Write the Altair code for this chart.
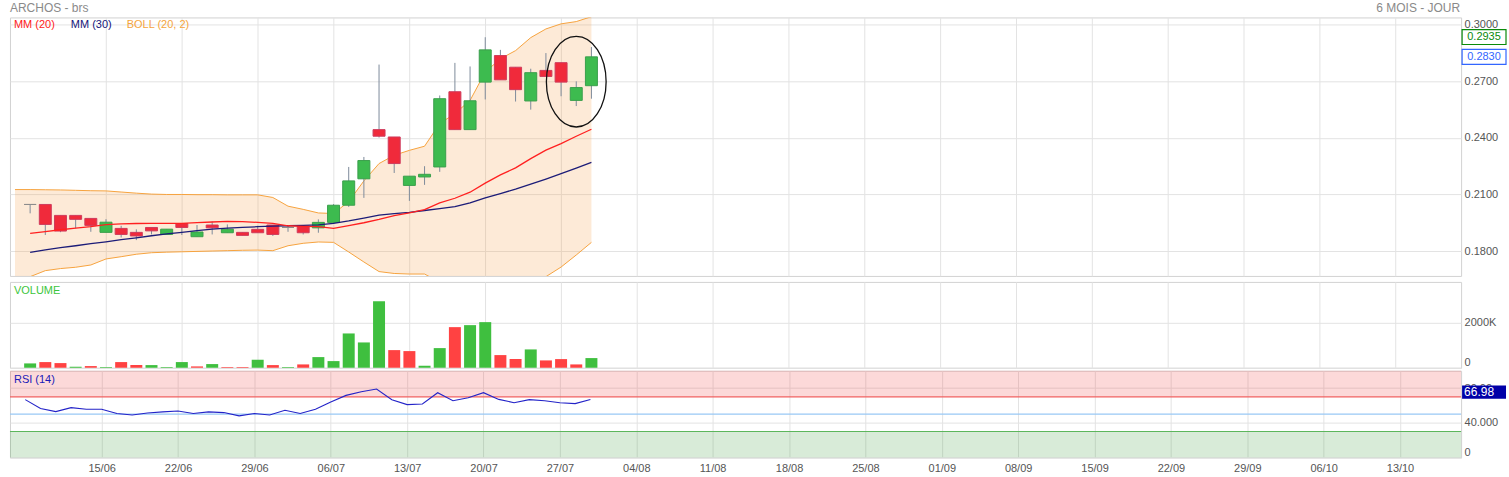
import altair as alt
import pandas as pd

# ---------------- data ----------------
idx = list(range(38))
opens = [0.2047, 0.2047, 0.1989, 0.1989, 0.1973, 0.1899, 0.1920, 0.1899, 0.1925, 0.1888,
         0.1946, 0.1876, 0.1938, 0.1897, 0.1899, 0.1915, 0.1938, 0.1925, 0.1932, 0.1923,
         0.1952, 0.2043, 0.2183, 0.2444, 0.2405, 0.2148, 0.2193, 0.2246, 0.2645, 0.2444,
         0.2696, 0.2837, 0.2775, 0.2596, 0.2758, 0.2799, 0.2599, 0.2677]
highs = [0.2047, 0.2047, 0.1989, 0.1989, 0.1973, 0.1969, 0.1934, 0.1915, 0.1925, 0.1916,
         0.1946, 0.1938, 0.1957, 0.1941, 0.1899, 0.1934, 0.1938, 0.1934, 0.1932, 0.1968,
         0.2049, 0.2246, 0.2299, 0.2789, 0.2405, 0.2197, 0.2250, 0.2625, 0.2798, 0.2779,
         0.2934, 0.2867, 0.2775, 0.2767, 0.2850, 0.2799, 0.2700, 0.2882]
lows = [0.2000, 0.1885, 0.1900, 0.1920, 0.1902, 0.1899, 0.1872, 0.1858, 0.1888, 0.1888,
        0.1885, 0.1876, 0.1888, 0.1897, 0.1883, 0.1897, 0.1880, 0.1902, 0.1888, 0.1897,
        0.1952, 0.2034, 0.2082, 0.2402, 0.2214, 0.2066, 0.2151, 0.2220, 0.2444, 0.2444,
        0.2604, 0.2708, 0.2593, 0.2550, 0.2726, 0.2621, 0.2569, 0.2608]
closes = [0.2047, 0.1941, 0.1906, 0.1968, 0.1936, 0.1953, 0.1888, 0.1880, 0.1907, 0.1916,
          0.1925, 0.1901, 0.1923, 0.1916, 0.1883, 0.1897, 0.1888, 0.1925, 0.1897, 0.1952,
          0.2043, 0.2172, 0.2280, 0.2409, 0.2264, 0.2197, 0.2207, 0.2608, 0.2444, 0.2597,
          0.2867, 0.2708, 0.2656, 0.2746, 0.2726, 0.2696, 0.2667, 0.2830]

mm20 = [0.1894, 0.1903, 0.1913, 0.1922, 0.1930, 0.1940, 0.1944, 0.1946, 0.1947, 0.1947,
        0.1947, 0.1951, 0.1954, 0.1957, 0.1956, 0.1952, 0.1947, 0.1934, 0.1931, 0.1929,
        0.1920, 0.1935, 0.1950, 0.1968, 0.1988, 0.2003, 0.2020, 0.2055, 0.2080, 0.2112,
        0.2160, 0.2204, 0.2241, 0.2290, 0.2335, 0.2370, 0.2409, 0.2446]
mm30 = [0.1793, 0.1806, 0.1818, 0.1828, 0.1839, 0.1849, 0.1860, 0.1870, 0.1881, 0.1891,
        0.1899, 0.1908, 0.1916, 0.1921, 0.1925, 0.1929, 0.1932, 0.1934, 0.1936, 0.1939,
        0.1947, 0.1960, 0.1975, 0.1990, 0.1998, 0.2005, 0.2015, 0.2025, 0.2035, 0.2055,
        0.2082, 0.2105, 0.2128, 0.2155, 0.2182, 0.2210, 0.2240, 0.2270]

band_idx = list(range(-1, 38))
boll_up = [0.2126, 0.2126, 0.2125, 0.2124, 0.2122, 0.2120, 0.2119, 0.2113, 0.2107, 0.2102,
           0.2100, 0.2100, 0.2099, 0.2099, 0.2098, 0.2098, 0.2098, 0.2084, 0.2038, 0.2021,
           0.2002, 0.1999, 0.2062, 0.2172, 0.2264, 0.2308, 0.2334, 0.2356, 0.2476, 0.2529,
           0.2599, 0.2749, 0.2820, 0.2863, 0.2932, 0.2978, 0.3005, 0.3017, 0.3043]
boll_low = [0.1664, 0.1664, 0.1696, 0.1707, 0.1714, 0.1726, 0.1758, 0.1770, 0.1783, 0.1791,
            0.1794, 0.1796, 0.1798, 0.1800, 0.1802, 0.1804, 0.1805, 0.1802, 0.1828, 0.1841,
            0.1848, 0.1846, 0.1795, 0.1742, 0.1691, 0.1681, 0.1678, 0.1678, 0.1635, 0.1600,
            0.1570, 0.1550, 0.1555, 0.1580, 0.1620, 0.1664, 0.1715, 0.1779, 0.1846]

volumes_k = [193, 252, 207, 44, 74, 30, 252, 118, 118, 30, 252, 59, 163, 30, 30, 356, 118, 30,
             148, 474, 296, 1526, 1126, 2963, 785, 741, 89, 874, 1807, 1896, 2030, 563, 385,
             815, 326, 385, 148, 430]
volume_up = [1, 0, 0, 1, 0, 1, 0, 0, 1, 1, 1, 0, 1, 0, 0, 1, 0, 1, 0, 1, 1, 1, 1, 1, 0, 0,
             1, 1, 0, 1, 1, 0, 0, 1, 0, 0, 0, 1]

rsi = [66.7, 56.4, 52.9, 57.5, 55.6, 55.6, 50.7, 49.1, 51.4, 52.6, 53.7, 50.7, 52.6, 51.8,
       48.0, 50.7, 49.1, 54.5, 50.7, 55.6, 64.0, 71.6, 75.8, 78.9, 66.7, 61.0, 61.7, 74.7,
       65.5, 68.95, 74.7, 67.0, 63.2, 66.7, 65.5, 63.2, 62.1, 66.98]

date_labels = ["15/06", "22/06", "29/06", "06/07", "13/07", "20/07", "27/07", "04/08", "11/08",
               "18/08", "25/08", "01/09", "08/09", "15/09", "22/09", "29/09", "06/10", "13/10"]
date_ticks = [5 * (k + 1) for k in range(len(date_labels))]

price_ticks = [0.18, 0.21, 0.24, 0.27, 0.30]
price_tags = [0.2935, 0.2830]
price_tag_colors = ["#0a8a0a", "#3366ff"]
highlight = {"i": 36.0, "v": 0.2698}

# ---------------- frames ----------------
GREEN, RED, GREY = "#3dbb4f", "#f02a3b", "#8c8c8c"
cd = pd.DataFrame({"i": idx, "open": opens, "high": highs, "low": lows, "close": closes,
                   "mm20": mm20, "mm30": mm30})
cd["fill"] = [GREEN if c > o else (RED if c < o else GREY) for o, c in zip(opens, closes)]
cd["edge"] = ["#3a9f4c" if c > o else ("#cf3b5c" if c < o else GREY) for o, c in zip(opens, closes)]

band = pd.DataFrame({"i": band_idx, "up": boll_up, "low": boll_low})
vol = pd.DataFrame({"i": idx, "vol": [v * 1000 for v in volumes_k],
                    "col": ["#3fbf3f" if u else "#ff4242" for u in volume_up]})
rs = pd.DataFrame({"i": idx, "rsi": rsi})
tags = pd.DataFrame({"v": price_tags, "col": price_tag_colors,
                     "txt": [f"{p:.4f}" for p in price_tags]})
hl = pd.DataFrame([highlight])
one = pd.DataFrame({"k": [0]})
rsi_last = pd.DataFrame({"txt": [f"{rsi[-1]:.2f}"]})

W = 1454
H_MAIN, H_VOL, H_RSI = 259, 86, 87
FONT = "Liberation Sans"
xscale = alt.Scale(domain=[-1, 94], nice=False, zero=False)
label_expr = "[" + ",".join(f"'{d}'" for d in date_labels) + "][round(datum.value/5)-1]"


def X(show_labels=False):
    if show_labels:
        ax = alt.Axis(values=date_ticks, labelExpr=label_expr, grid=True, ticks=False,
                      domain=False, labelPadding=5, labelOverlap=False, labelFlush=False,
                      title=None)
    else:
        ax = alt.Axis(values=date_ticks, labels=False, grid=True, ticks=False, domain=False,
                      title=None)
    return alt.X("i:Q", scale=xscale, axis=ax, title=None)


main_scale = alt.Scale(domain=[0.1668, 0.3039], nice=False, zero=False)
main_axis = alt.Axis(orient="right", values=price_ticks, format=".4f", ticks=False,
                     domain=False, labelPadding=3, grid=True, title=None)


def YM(field):
    return alt.Y(f"{field}:Q", scale=main_scale, axis=main_axis, title=None)


area = alt.Chart(band).mark_area(color="#f5a04a", opacity=0.22, clip=True).encode(
    x=X(), y=YM("low"), y2="up:Q")
up_line = alt.Chart(band).mark_line(color="#f6a33e", strokeWidth=1, clip=True).encode(
    x=X(), y=YM("up"))
low_line = alt.Chart(band).mark_line(color="#f6a33e", strokeWidth=1, clip=True).encode(
    x=X(), y=YM("low"))
wicks = alt.Chart(cd).mark_rule(color="#7d8b9b", strokeWidth=1).encode(
    x=X(), y=YM("low"), y2="high:Q")
bodies = alt.Chart(cd).mark_bar(size=12, strokeWidth=1).encode(
    x=X(), y=YM("open"), y2="close:Q",
    color=alt.Color("fill:N", scale=None), stroke=alt.Stroke("edge:N", scale=None))
m30 = alt.Chart(cd).mark_line(color="#1c1c78", strokeWidth=1.3).encode(x=X(), y=YM("mm30"))
m20 = alt.Chart(cd).mark_line(color="#ff2020", strokeWidth=1.3).encode(x=X(), y=YM("mm20"))

ellipse_path = "M -0.66 0 A 0.66 1 0 1 0 0.66 0 A 0.66 1 0 1 0 -0.66 0 Z"
ellipse = alt.Chart(hl).mark_point(shape=ellipse_path, size=8226, filled=False,
                                   stroke="#111111", strokeWidth=1.3, opacity=1).encode(
    x=X(), y=YM("v"))

box_path = "M -1 -0.34 L 1 -0.34 L 1 0.34 L -1 0.34 Z"
tag_box = alt.Chart(tags).mark_point(shape=box_path, size=1936, filled=False, strokeWidth=1.2,
                                     opacity=1).encode(
    x=alt.value(W + 23), y=YM("v"), stroke=alt.Stroke("col:N", scale=None))
tag_txt = alt.Chart(tags).mark_text(align="center", baseline="middle", fontSize=11,
                                    font=FONT).encode(
    x=alt.value(W + 23), y=YM("v"), text="txt:N", color=alt.Color("col:N", scale=None))


def label(txt, x, y, color, size=11, align="left", weight="normal"):
    return alt.Chart(one).mark_text(align=align, baseline="middle", fontSize=size, font=FONT,
                                    color=color, fontWeight=weight).encode(
        x=alt.value(x), y=alt.value(y), text=alt.value(txt))


main = alt.layer(
    area, up_line, low_line, wicks, bodies, m30, m20, ellipse, tag_box, tag_txt,
    label("MM (20)", 4, 8, "#ff1a1a"),
    label("MM (30)", 61, 8, "#15157a"),
    label("BOLL (20, 2)", 117, 8, "#f5a43c"),
    label("ARCHOS - brs", 0, -9, "#8a8a8a", size=12),
    label("6 MOIS - JOUR", W - 1, -9, "#8a8a8a", size=12, align="right"),
).properties(width=W, height=H_MAIN)

vol_chart = alt.layer(
    alt.Chart(vol).mark_bar(size=12).encode(
        x=X(),
        y=alt.Y("vol:Q", scale=alt.Scale(domain=[0, 3820000], nice=False),
                axis=alt.Axis(orient="right", values=[0, 2000000],
                              labelExpr="datum.value == 0 ? '0' : (datum.value/1000) + 'K'",
                              labelFlush=True, ticks=False, domain=False, labelPadding=3,
                              grid=True, title=None),
                title=None),
        color=alt.Color("col:N", scale=None)),
    label("VOLUME", 4, 9, "#3cc63c"),
).properties(width=W, height=H_VOL)

rsi_scale = alt.Scale(domain=[0, 100], nice=False)
rsi_axis = alt.Axis(orient="right", values=[0, 40, 80],
                    labelExpr="datum.value == 0 ? '0' : (datum.value == 40 ? '40.000' : '80.00')",
                    labelFlush=True, ticks=False, domain=False, labelPadding=3, grid=True,
                    title=None)


def YR(field):
    return alt.Y(f"{field}:Q", scale=rsi_scale, axis=rsi_axis, title=None)


zones = pd.DataFrame({"a": [70, 0], "b": [100, 30], "col": ["#f04040", "#3a9a3a"]})
lines = pd.DataFrame({"y": [70, 50, 30], "col": ["#f06060", "#99c8f5", "#5cb65c"]})

rsi_chart = alt.layer(
    alt.Chart(zones).mark_rect(opacity=0.2).encode(
        x=alt.value(0), x2=alt.value(W), y=YR("a"), y2="b:Q",
        color=alt.Color("col:N", scale=None)),
    alt.Chart(lines).mark_rule(strokeWidth=1.2).encode(
        y=YR("y"), color=alt.Color("col:N", scale=None)),
    alt.Chart(rs).mark_line(color="#2323c8", strokeWidth=1.1).encode(x=X(True), y=YR("rsi")),
    alt.Chart(one).mark_point(shape="M -1 -0.3 L 1 -0.3 L 1 0.3 L -1 0.3 Z", size=1936,
                              filled=True, fill="#0000a8", opacity=1, strokeWidth=0).encode(
        x=alt.value(W + 23), y=alt.value(21.5)),
    alt.Chart(rsi_last).mark_text(align="left", baseline="middle", fontSize=12, font=FONT,
                                  color="white").encode(
        x=alt.value(W + 3), y=alt.value(21.5), text="txt:N"),
    label("RSI (14)", 4, 9, "#1a1ab8"),
).properties(width=W, height=H_RSI)

lower = alt.vconcat(vol_chart, rsi_chart, spacing=1)
chart = alt.vconcat(main, lower, spacing=4).properties(
    padding={"left": 8, "top": 1, "right": 0, "bottom": 0},
    background="white",
).configure_view(stroke="#d2d2d2").configure_axis(
    gridColor="#e3e3e3", labelFont=FONT, labelColor="#555555", labelFontSize=11)

chart.save("out.html", embed_options={"renderer": "svg", "actions": False})
